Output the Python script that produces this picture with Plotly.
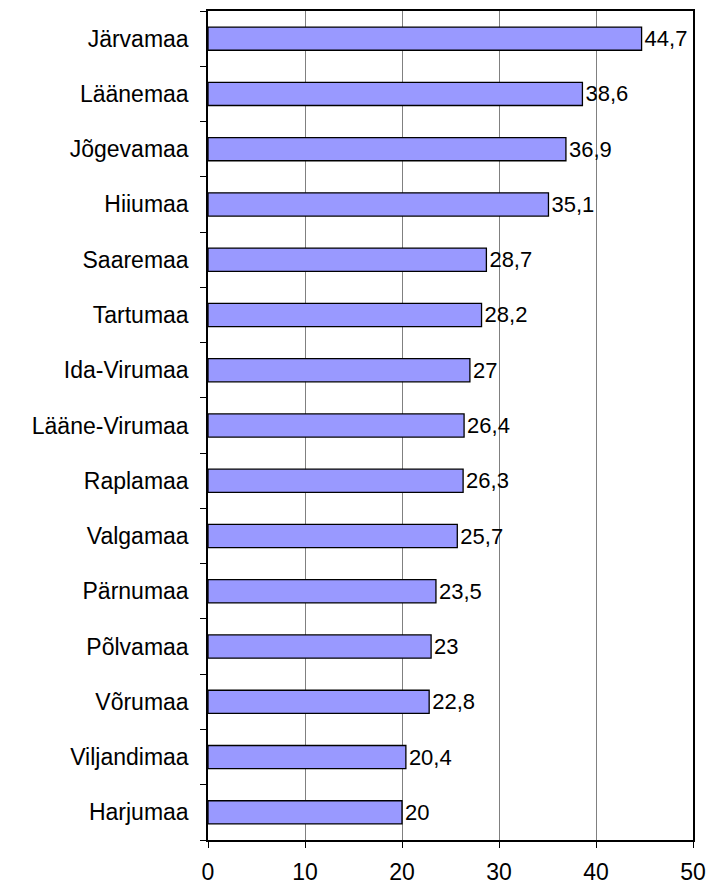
import plotly.graph_objects as go

categories = ["Järvamaa", "Läänemaa", "Jõgevamaa", "Hiiumaa", "Saaremaa", "Tartumaa",
              "Ida-Virumaa", "Lääne-Virumaa", "Raplamaa", "Valgamaa", "Pärnumaa",
              "Põlvamaa", "Võrumaa", "Viljandimaa", "Harjumaa"]
values = [44.7, 38.6, 36.9, 35.1, 28.7, 28.2, 27, 26.4, 26.3, 25.7, 23.5, 23, 22.8, 20.4, 20]
x_ticks = [0, 10, 20, 30, 40, 50]

labels = [f"{v:g}".replace(".", ",") for v in values]

fig = go.Figure(go.Bar(
    y=categories, x=values, orientation="h",
    marker=dict(color="#9999FF", line=dict(color="black", width=1.3)),
    text=labels, textposition="outside", cliponaxis=False,
    constraintext="none",
    textfont=dict(family="Liberation Sans, Arial", size=22, color="black"),
    width=0.42,
))

fig.update_layout(
    width=708, height=890,
    margin=dict(l=208, r=15, t=11, b=50),
    paper_bgcolor="white", plot_bgcolor="white",
    font=dict(family="Liberation Sans, Arial", size=22, color="black"),
    showlegend=False,
    xaxis=dict(range=[0, 50], tickvals=x_ticks, showgrid=True, gridcolor="#808080",
               gridwidth=1, ticks="outside", ticklen=6, tickcolor="black",
               showline=True, linecolor="black", linewidth=1.5, mirror=True,
               zeroline=False, tickfont=dict(size=23), automargin=False,
               ticklabelstandoff=5),
    yaxis=dict(categoryorder="array", categoryarray=categories[::-1],
               ticks="outside", tickson="boundaries", ticklen=6, tickcolor="black",
               showline=True, linecolor="black", linewidth=1.5, mirror=True,
               showgrid=False, tickfont=dict(size=23), ticklabelstandoff=13,
               automargin=False),
)

fig.write_html("out.html", config={"displayModeBar": False},
               post_script="document.body.style.margin='0';document.body.style.overflow='hidden';")
